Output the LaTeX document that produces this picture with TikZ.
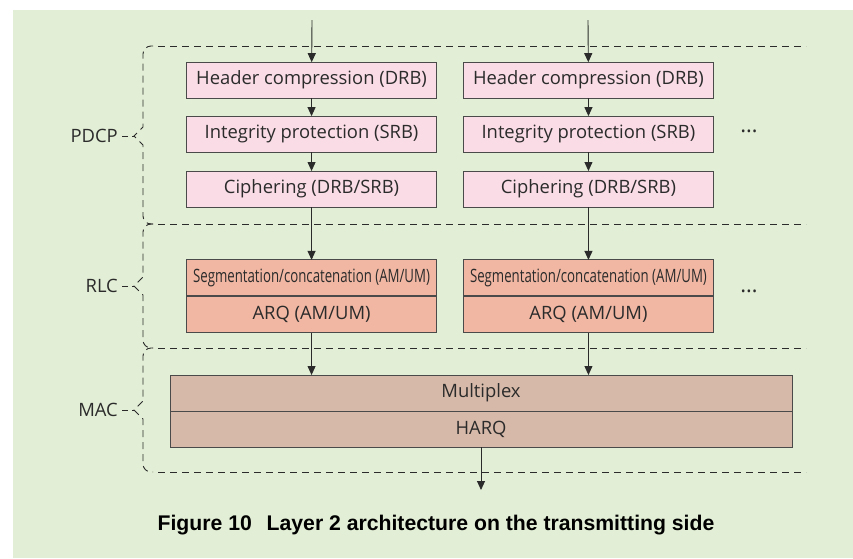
\documentclass[tikz,border=0pt]{standalone}
\usepackage{fontspec}
\setmainfont{Open Sans}
\newfontfamily\narrowsans[FakeStretch=0.72]{Open Sans}
\newfontfamily\capsans{Liberation Sans}
\usepackage{tikz}
\usetikzlibrary{matrix,arrows.meta}

\definecolor{bggreen}{HTML}{E2EED5}
\definecolor{pdcpfill}{HTML}{F9DCE5}
\definecolor{rlcfill}{HTML}{F1B7A3}
\definecolor{macfill}{HTML}{D6B9A8}
\definecolor{boxline}{HTML}{4A4A4A}
\definecolor{inkgray}{HTML}{2B2B2B}

\tikzset{
  layerbox/.style={draw=boxline, line width=0.9pt, minimum width=250pt, minimum height=36pt,
    inner sep=0pt, outer sep=0pt, text=inkgray, font=\fontsize{18.4}{22}\selectfont},
  macbox/.style={layerbox, fill=macfill, minimum width=622pt},
  arr/.style={-{Triangle[length=9pt,width=8pt]}, line width=0.9pt, draw=inkgray},
  layerline/.style={line width=0.9pt, draw=inkgray, dash pattern=on 7pt off 5pt},
  layername/.style={anchor=east, inner sep=2pt, text=inkgray, font=\fontsize{18.4}{22}\selectfont}
}

\begin{document}
\begin{tikzpicture}[x=1pt, y=-1pt]
  \useasboundingbox (0,0) rectangle (853,558);
  \fill[bggreen] (13,10) rectangle (853,558);

  \matrix (m) [matrix of nodes, row sep=17pt, column sep=26pt, nodes={layerbox},
    row 1/.style={nodes={fill=pdcpfill}},
    row 2/.style={nodes={fill=pdcpfill}},
    row 3/.style={nodes={fill=pdcpfill}},
    row 4/.style={nodes={fill=rlcfill, font=\narrowsans\fontsize{18.4}{22}\selectfont}},
    row 5/.style={nodes={fill=rlcfill}}] at (450,197.5)
  {
    Header compression (DRB) & Header compression (DRB) \\
    Integrity protection (SRB) & Integrity protection (SRB) \\[1pt]
    Ciphering (DRB/SRB) & Ciphering (DRB/SRB) \\[35pt]
    Segmentation/concatenation (AM/UM) & Segmentation/concatenation (AM/UM) \\[-17pt]
    ARQ (AM/UM) & ARQ (AM/UM) \\
  };

  \node (mux) [macbox] at (481,393) {Multiplex};
  \node (harq) [macbox, anchor=north] at (mux.south) {HARQ};

  \node (dots1) [text=inkgray, font=\fontsize{22}{24}\selectfont] at (749,131) {\dots};
  \node (dots2) [text=inkgray, font=\fontsize{22}{24}\selectfont] at (749,291) {\dots};

  % layer borders
  \foreach \top/\mid/\bot/\name/\txt in {46/136/224/pdcp/PDCP, 224/286/348/rlc/RLC, 348/410/472/mac/MAC}
  {
    \draw[layerline] (153,\top) [rounded corners=8pt] -- (143,\top) [sharp corners] -- (143,\mid-9)
      -- (134,\mid) -- (143,\mid+9) [rounded corners=8pt] -- (143,\bot) -- (153,\bot);
    \node (\name) [layername] at (120,\mid) {\txt};
    \draw[layerline, dash pattern=on 6pt off 4pt, dash phase=4pt] (134,\mid) -- (\name.east);
  }
  \foreach \y in {46,224,348,472}
    \draw[layerline, dash phase=-5pt] (153,\y) -- (806,\y);

  \coordinate (in1) at (312,20);
  \coordinate (in2) at (588,20);
  \coordinate (out) at (481,490);

  \foreach \c in {1,2}
  {
    \draw[arr] (in\c) -- (m-1-\c);
    \draw[arr] (m-1-\c) -- (m-2-\c);
    \draw[arr] (m-2-\c) -- (m-3-\c);
    \draw[arr] (m-3-\c) -- (m-4-\c);
    \draw[arr] (m-5-\c) -- (m-5-\c |- mux.north);
  }
  \draw[arr] (harq) -- (out);

  \node (caption) [font=\capsans\bfseries\fontsize{21.2}{24}\selectfont, text=black] at (436,525)
    {Figure 10\hspace{0.7em}Layer 2 architecture on the transmitting side};
\end{tikzpicture}
\end{document}
